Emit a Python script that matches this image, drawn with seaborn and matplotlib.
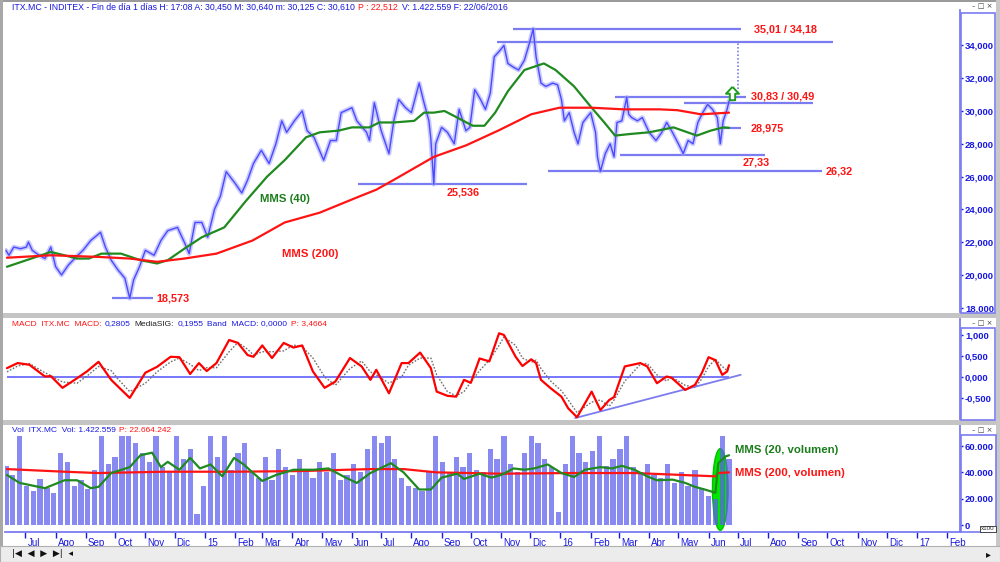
import pandas as pd
import matplotlib
matplotlib.use("Agg")
import matplotlib.pyplot as plt
import matplotlib.dates as mdates
import matplotlib.transforms as mtransforms
from matplotlib.patches import Rectangle, Ellipse
from matplotlib.path import Path
import seaborn as sns

# ------------------------------------------------------------------ data
price_dates = [
    "2014-06-11", "2014-06-14", "2014-06-19", "2014-06-26", "2014-07-02", "2014-07-04", "2014-07-08",
    "2014-07-15", "2014-07-21", "2014-07-27", "2014-08-01", "2014-08-07", "2014-08-14", "2014-08-22",
    "2014-08-29", "2014-09-06", "2014-09-16", "2014-09-21", "2014-09-27", "2014-10-04", "2014-10-11",
    "2014-10-16", "2014-10-20", "2014-10-26", "2014-11-01", "2014-11-10", "2014-11-17", "2014-11-24",
    "2014-12-04", "2014-12-11", "2014-12-16", "2014-12-22", "2014-12-29", "2015-01-04", "2015-01-11",
    "2015-01-17", "2015-01-23", "2015-02-01", "2015-02-08", "2015-02-14", "2015-02-20", "2015-02-28",
    "2015-03-08", "2015-03-15", "2015-03-21", "2015-03-26", "2015-04-03", "2015-04-11", "2015-04-16",
    "2015-04-23", "2015-05-03", "2015-05-10", "2015-05-16", "2015-05-21", "2015-06-01", "2015-06-06",
    "2015-06-16", "2015-06-19", "2015-06-24", "2015-07-01", "2015-07-09", "2015-07-14", "2015-07-19",
    "2015-07-26", "2015-08-01", "2015-08-09", "2015-08-14", "2015-08-19", "2015-08-21", "2015-08-24",
    "2015-08-26", "2015-09-01", "2015-09-07", "2015-09-14", "2015-09-19", "2015-09-26", "2015-09-30",
    "2015-10-05", "2015-10-11", "2015-10-16", "2015-10-21", "2015-10-25", "2015-10-31", "2015-11-04",
    "2015-11-08", "2015-11-13", "2015-11-19", "2015-11-25", "2015-11-30", "2015-12-04", "2015-12-07",
    "2015-12-12", "2015-12-17", "2015-12-24", "2015-12-29", "2016-01-02", "2016-01-05", "2016-01-10",
    "2016-01-15", "2016-01-19", "2016-01-24", "2016-02-01", "2016-02-06", "2016-02-08", "2016-02-11",
    "2016-02-16", "2016-02-21", "2016-02-25", "2016-02-28", "2016-03-04", "2016-03-09", "2016-03-11",
    "2016-03-14", "2016-03-20", "2016-03-25", "2016-04-01", "2016-04-08", "2016-04-14", "2016-04-19",
    "2016-04-24", "2016-05-01", "2016-05-06", "2016-05-11", "2016-05-16", "2016-05-21", "2016-05-26",
    "2016-05-31", "2016-06-05", "2016-06-10", "2016-06-13", "2016-06-16", "2016-06-20", "2016-06-22",
]
price_close = [
    21.5, 21.2, 21.7, 21.6, 21.7, 22.0, 21.5,
    21.2, 21.0, 21.7, 20.5, 20.0, 20.6, 21.1,
    21.5, 22.1, 22.6, 21.7, 20.9, 20.3, 19.8,
    18.573, 19.7, 20.5, 21.5, 21.2, 22.1, 22.7,
    22.9, 22.0, 21.3, 23.2, 23.2, 22.3, 24.0,
    24.8, 26.3, 25.6, 25.0, 25.8, 26.8, 27.6,
    26.8, 28.0, 29.4, 28.7, 29.4, 30.0, 28.8,
    28.4, 27.0, 28.2, 28.2, 29.9, 30.2, 29.4,
    28.7, 28.2, 30.5, 28.8, 27.4, 29.4, 30.7,
    30.2, 29.9, 31.7, 30.5, 29.4, 28.3, 25.536,
    28.0, 29.0, 28.7, 28.0, 30.1, 28.8, 29.0,
    31.3, 30.7, 30.1, 31.1, 33.3, 33.7, 34.0,
    32.9, 32.7, 32.5, 33.1, 34.1, 35.01, 33.3,
    31.7, 31.5, 31.7, 31.6, 30.7, 29.4, 29.9,
    28.7, 28.0, 29.3, 29.9, 28.7, 27.2, 26.32,
    27.4, 28.0, 27.2, 29.3, 29.4, 30.83, 29.8,
    29.6, 29.4, 29.6, 28.7, 28.2, 28.7, 29.3,
    28.8, 28.0, 27.4, 28.2, 28.0, 29.3, 29.9,
    30.4, 30.1, 29.6, 28.0, 29.4, 30.1, 30.61,
]

mms40_dates = [
    "2014-06-12", "2014-07-27", "2014-08-10", "2014-08-23", "2014-09-04", "2014-09-17", "2014-10-07",
    "2014-10-27", "2014-11-13", "2014-11-24", "2014-12-11", "2014-12-29", "2015-01-21", "2015-02-12",
    "2015-03-06", "2015-03-24", "2015-04-15", "2015-04-29", "2015-05-18", "2015-06-01", "2015-06-19",
    "2015-06-29", "2015-07-14", "2015-08-04", "2015-08-14", "2015-08-24", "2015-09-04", "2015-09-17",
    "2015-10-03", "2015-10-15", "2015-10-26", "2015-11-08", "2015-11-25", "2015-12-15", "2015-12-27",
    "2016-01-15", "2016-02-02", "2016-02-15", "2016-02-26", "2016-03-13", "2016-04-01", "2016-04-26",
    "2016-05-20", "2016-06-03", "2016-06-16", "2016-06-22",
]
mms40_values = [
    20.5, 21.4, 21.2, 21.0, 21.0, 21.3, 21.3,
    20.9, 20.7, 20.9, 21.6, 22.3, 22.9, 24.5,
    26.0, 27.0, 28.4, 28.7, 28.8, 29.0, 29.0,
    29.3, 29.3, 29.4, 29.9, 29.9, 30.0, 29.6,
    29.1, 29.1, 29.9, 31.2, 32.5, 32.9, 32.5,
    31.5, 30.2, 29.3, 28.5, 28.6, 28.7, 29.0,
    28.5, 28.8, 29.0, 28.975,
]

mms200_dates = [
    "2014-06-12", "2014-07-27", "2014-09-14", "2014-10-16", "2014-11-13", "2014-12-11", "2015-01-13",
    "2015-02-19", "2015-03-24", "2015-04-29", "2015-06-05", "2015-06-26", "2015-07-14", "2015-08-24",
    "2015-09-26", "2015-10-29", "2015-12-02", "2015-12-31", "2016-02-02", "2016-03-06", "2016-04-12",
    "2016-04-30", "2016-05-24", "2016-06-08", "2016-06-22",
]
mms200_values = [
    21.05, 21.2, 21.1, 21.0, 20.8, 21.0, 21.3,
    22.1, 23.2, 23.8, 24.7, 25.2, 25.8, 27.2,
    27.9, 28.8, 29.8, 30.2, 30.2, 30.1, 30.1,
    30.05, 29.8, 29.85, 29.9,
]

macd_dates = [
    "2014-06-12", "2014-06-23", "2014-07-05", "2014-07-21", "2014-07-27", "2014-08-08", "2014-08-23",
    "2014-09-02", "2014-09-14", "2014-09-27", "2014-10-04", "2014-10-16", "2014-11-01", "2014-11-13",
    "2014-11-27", "2014-12-06", "2014-12-17", "2014-12-26", "2015-01-03", "2015-01-13", "2015-01-26",
    "2015-02-04", "2015-02-14", "2015-02-20", "2015-03-01", "2015-03-11", "2015-03-23", "2015-04-02",
    "2015-04-11", "2015-04-22", "2015-05-04", "2015-05-15", "2015-05-30", "2015-06-11", "2015-06-20",
    "2015-06-26", "2015-07-09", "2015-07-22", "2015-07-29", "2015-08-10", "2015-08-21", "2015-08-27",
    "2015-09-07", "2015-09-16", "2015-09-24", "2015-10-01", "2015-10-10", "2015-10-20", "2015-10-30",
    "2015-11-04", "2015-11-16", "2015-11-23", "2015-12-02", "2015-12-07", "2015-12-12", "2015-12-22",
    "2016-01-02", "2016-01-09", "2016-01-18", "2016-02-02", "2016-02-11", "2016-02-20", "2016-02-25",
    "2016-03-07", "2016-03-23", "2016-03-30", "2016-04-09", "2016-04-19", "2016-04-24", "2016-05-08",
    "2016-05-18", "2016-05-25", "2016-06-01", "2016-06-08", "2016-06-15", "2016-06-20", "2016-06-22",
]
macd_values = [
    0.21, 0.33, 0.29, 0.01, 0.02, -0.26, -0.03,
    0.13, 0.36, -0.07, -0.23, -0.50, 0.10, 0.24,
    0.48, 0.47, 0.07, 0.33, 0.14, 0.33, 0.88,
    0.81, 0.52, 0.48, 0.75, 0.45, 0.81, 0.70,
    0.75, 0.13, -0.26, -0.11, 0.45, 0.25, -0.07,
    0.17, -0.39, 0.33, 0.33, 0.58, 0.21, -0.35,
    -0.45, -0.47, -0.07, -0.14, 0.44, 0.37, 1.04,
    1.00, 0.48, 0.26, 0.42, 0.33, -0.07, -0.27,
    -0.47, -0.75, -0.96, -0.35, -0.79, -0.55, -0.48,
    0.25, 0.33, 0.25, -0.15, 0.01, -0.02, -0.31,
    -0.19, 0.09, 0.47, 0.40, 0.05, 0.13, 0.28,
]
signal_values = [
    0.12, 0.26, 0.32, 0.10, 0.03, -0.12, -0.15,
    0.02, 0.25, 0.15, -0.05, -0.35, -0.15, 0.12,
    0.36, 0.45, 0.30, 0.15, 0.22, 0.22, 0.60,
    0.82, 0.66, 0.52, 0.60, 0.60, 0.62, 0.76,
    0.72, 0.45, 0.00, -0.20, 0.20, 0.38, 0.12,
    0.05, -0.15, 0.00, 0.28, 0.45, 0.45, 0.05,
    -0.35, -0.45, -0.35, -0.12, 0.15, 0.40, 0.75,
    0.95, 0.75, 0.45, 0.35, 0.40, 0.20, -0.10,
    -0.33, -0.55, -0.85, -0.60, -0.55, -0.70, -0.55,
    -0.10, 0.30, 0.32, 0.05, -0.10, 0.00, -0.20,
    -0.25, -0.05, 0.25, 0.42, 0.25, 0.15, 0.20,
]

# weekly volume (thousands of x100 shares), week of 9 June 2014 to week of 20 June 2016
vol_first_week = "2014-06-11"
vol_values = [
    45, 38, 68, 30, 26, 35, 28, 24, 55, 48, 30, 34, 27, 42, 68, 46, 52,
    68, 68, 62, 55, 48, 68, 44, 40, 68, 50, 58, 8, 30,
    68, 52, 68, 42, 55, 62, 40, 36, 52, 34, 58, 44, 38, 50, 42, 36, 48,
    40, 55, 34, 38, 46, 40, 58, 68, 62, 68, 50, 36, 30, 28, 26, 40, 68, 48,
    40, 52, 44, 55, 42, 40, 58, 50, 68, 46, 40, 55, 68, 62, 50, 44, 10,
    46, 68, 55, 48, 56, 68, 45, 50, 58, 68, 44, 40, 46, 38, 36, 46, 32,
    40, 30, 42, 28, 22, 20, 68, 50,
]

vol_ma20_dates = [
    "2014-06-12", "2014-06-25", "2014-07-21", "2014-08-10", "2014-08-23", "2014-09-06", "2014-09-14",
    "2014-09-27", "2014-10-16", "2014-10-27", "2014-11-08", "2014-11-17", "2014-11-24", "2014-12-06",
    "2014-12-17", "2014-12-27", "2015-01-07", "2015-01-19", "2015-01-31", "2015-02-10", "2015-02-19",
    "2015-03-01", "2015-03-15", "2015-04-02", "2015-04-23", "2015-05-08", "2015-05-23", "2015-06-06",
    "2015-06-20", "2015-07-11", "2015-07-24", "2015-08-09", "2015-08-21", "2015-09-01", "2015-09-17",
    "2015-09-24", "2015-10-10", "2015-10-22", "2015-11-01", "2015-11-14", "2015-11-25", "2015-12-05",
    "2015-12-19", "2016-01-02", "2016-01-15", "2016-01-26", "2016-02-11", "2016-02-23", "2016-03-04",
    "2016-03-17", "2016-03-30", "2016-04-09", "2016-04-25", "2016-05-08", "2016-05-18", "2016-05-28",
    "2016-06-08", "2016-06-11", "2016-06-18", "2016-06-22",
]
vol_ma20_values = [
    38, 32, 28, 34, 34, 28, 29,
    39.5, 44, 53, 55, 44, 48, 42,
    51, 43, 46, 37, 51, 46, 40,
    33.5, 38, 42, 42, 43, 37, 32,
    39.5, 47, 40, 27, 27, 36, 39,
    35, 39, 36, 38, 43, 42, 43,
    46, 39.5, 36.5, 42, 44, 43, 45,
    42, 37, 34, 34.5, 32, 29, 27,
    24.5, 47, 52, 53,
]

vol_ma200_dates = [
    "2014-06-12", "2014-08-10", "2014-09-14", "2014-11-21", "2015-01-31", "2015-04-09", "2015-06-20",
    "2015-07-24", "2015-08-27", "2015-11-01", "2016-01-09", "2016-03-17", "2016-06-08", "2016-06-11",
    "2016-06-22",
]
vol_ma200_values = [
    42.5, 40.5, 39.5, 40.5, 40.5, 41, 42.5,
    42.5, 40, 39, 39.5, 39.5, 37, 39.5,
    40,
]

month_labels = ["Jul", "Ago", "Sep", "Oct", "Nov", "Dic", "15", "Feb", "Mar", "Abr", "May", "Jun",
                "Jul", "Ago", "Sep", "Oct", "Nov", "Dic", "16", "Feb", "Mar", "Abr", "May", "Jun",
                "Jul", "Ago", "Sep", "Oct", "Nov", "Dic", "17", "Feb"]
price_ticks = [18, 20, 22, 24, 26, 28, 30, 32, 34]
macd_ticks = [-0.5, 0.0, 0.5, 1.0]
vol_ticks = [0, 20, 40, 60]

# ------------------------------------------------------------------ style
sns.set_theme(style="white")
plt.rcParams['font.family'] = ['Liberation Sans', 'DejaVu Sans']

PRICE_BLUE = '#4a4aff'
LINE_BLUE = '#7c7cf2'
TXT_BLUE = '#1818e0'
RED = '#ff1414'
GREEN = '#1f8a1f'
VOL_BLUE = '#5c5cee'

W, H = 1000, 562
fig = plt.figure(figsize=(10, 5.62), dpi=100)
fig.patch.set_facecolor('white')


def axrect(x0, y0, x1, y1):
    return [x0 / W, 1 - y1 / H, (x1 - x0) / W, (y1 - y0) / H]


def frect(x0, y0, x1, y1, **kw):
    r = Rectangle((x0 / W, 1 - y1 / H), (x1 - x0) / W, (y1 - y0) / H,
                  transform=fig.transFigure, **kw)
    fig.add_artist(r)
    return r


ax1 = fig.add_axes(axrect(5, 10, 960, 312))
ax2 = fig.add_axes(axrect(5, 319, 960, 421), sharex=ax1)
ax3 = fig.add_axes(axrect(5, 425, 960, 532), sharex=ax1)

# ------------------------------------------------------------------ price panel
pdt = pd.to_datetime(price_dates)
# soft band under the close line imitates the width of the daily bars
sns.lineplot(x=pdt, y=price_close, ax=ax1, color='#9d9dff', lw=3.4, alpha=0.55,
             estimator=None, sort=False, zorder=2.5)
sns.lineplot(x=pdt, y=price_close, ax=ax1, color=PRICE_BLUE,
             lw=1.0, estimator=None, sort=False, zorder=3)
sns.lineplot(x=pd.to_datetime(mms40_dates), y=mms40_values, ax=ax1, color=GREEN,
             lw=1.6, estimator=None, sort=False, zorder=4)
sns.lineplot(x=pd.to_datetime(mms200_dates), y=mms200_values, ax=ax1, color=RED,
             lw=1.6, estimator=None, sort=False, zorder=4)

levels = [
    (18.573, "2014-09-28", "2014-11-09"),
    (25.536, "2015-06-07", "2015-11-28"),
    (35.01, "2015-11-13", "2016-07-04"),
    (34.18, "2015-10-28", "2016-10-07"),
    (30.83, "2016-02-26", "2016-07-09"),
    (30.49, "2016-05-07", "2016-09-16"),
    (28.975, "2016-06-16", "2016-07-04"),
    (27.33, "2016-03-02", "2016-07-29"),
    (26.32, "2015-12-19", "2016-09-25"),
]
for val, d0, d1 in levels:
    ax1.hlines(val, pd.Timestamp(d0), pd.Timestamp(d1), color=LINE_BLUE, lw=1.6, zorder=2)

ax1.vlines(pd.Timestamp("2016-07-01"), 31.35, 34.18, color=LINE_BLUE, lw=1.2,
           linestyles=(0, (1, 1.2)), zorder=2)
arrow = Path([(0, 1), (-0.85, 0.1), (-0.35, 0.1), (-0.35, -0.75), (0.35, -0.75),
              (0.35, 0.1), (0.85, 0.1), (0, 1)])
ax1.plot([pd.Timestamp("2016-06-25")], [31.05], marker=arrow, ms=11, mfc='white',
         mec='#1e9a1e', mew=1.4, ls='none', zorder=5)

lab = dict(color=RED, fontsize=7.8, fontweight='bold', va='center', ha='left')
ax1.text(pd.Timestamp("2014-11-12"), 18.573, "18,573", **lab)
ax1.text(pd.Timestamp("2015-09-23"), 25.0, "25,536", **{**lab, 'ha': 'center'})
ax1.text(pd.Timestamp("2016-07-18"), 34.95, "35,01 / 34,18", **lab)
ax1.text(pd.Timestamp("2016-07-15"), 30.9, "30,83 / 30,49", **lab)
ax1.text(pd.Timestamp("2016-07-14"), 28.95, "28,975", **lab)
ax1.text(pd.Timestamp("2016-07-06"), 26.85, "27,33", **lab)
ax1.text(pd.Timestamp("2016-09-29"), 26.32, "26,32", **lab)
ax1.text(pd.Timestamp("2015-02-27"), 24.63, "MMS (40)", color='#1a7d1a', fontsize=8.2,
         fontweight='bold', va='center', ha='left')
ax1.text(pd.Timestamp("2015-03-21"), 21.28, "MMS (200)", color=RED, fontsize=8.2,
         fontweight='bold', va='center', ha='left')

ax1.set_ylim(17.74, 36.16)

# ------------------------------------------------------------------ MACD panel
mdt = pd.to_datetime(macd_dates)
ax2.hlines(0, mdt[0], mdt[-1], color='#6c6cff', lw=1.3, zorder=1)
sns.lineplot(x=mdt, y=signal_values, ax=ax2, color='#707070', lw=1.0,
             estimator=None, sort=False, zorder=2, linestyle=(0, (1.2, 1.2)))
sns.lineplot(x=mdt, y=macd_values, ax=ax2, color='#ff0000', lw=1.6,
             estimator=None, sort=False, zorder=3)
ax2.plot([pd.Timestamp("2016-01-16"), pd.Timestamp("2016-07-04")], [-0.98, 0.05],
         color=LINE_BLUE, lw=1.3, zorder=2)
ax2.set_ylim(-1.05, 1.38)

# ------------------------------------------------------------------ volume panel
vol_dates = pd.date_range(vol_first_week, periods=len(vol_values), freq="7D")
ell = Ellipse((mdates.date2num(pd.Timestamp("2016-06-13")), 27), width=16, height=62,
              facecolor='#00e600', edgecolor='#00c000', lw=1, zorder=1)
ax3.add_patch(ell)
ax3.bar(vol_dates, vol_values, width=5.4, color=VOL_BLUE, alpha=0.72, lw=0, zorder=2)
sns.lineplot(x=pd.to_datetime(vol_ma200_dates), y=vol_ma200_values, ax=ax3, color=RED,
             lw=1.6, estimator=None, sort=False, zorder=3)
sns.lineplot(x=pd.to_datetime(vol_ma20_dates), y=vol_ma20_values, ax=ax3, color=GREEN,
             lw=1.6, estimator=None, sort=False, zorder=4)
ax3.text(pd.Timestamp("2016-06-28"), 57, "MMS (20, volumen)", color='#1a7d1a', fontsize=8.2,
         fontweight='bold', va='center', ha='left')
ax3.text(pd.Timestamp("2016-06-28"), 39.5, "MMS (200, volumen)", color=RED, fontsize=8.2,
         fontweight='bold', va='center', ha='left')
ax3.set_ylim(-5.3, 76)

# ------------------------------------------------------------------ axes styling
ax1.set_xlim(pd.Timestamp("2014-06-10"), pd.Timestamp("2017-02-14"))
for ax in (ax1, ax2, ax3):
    ax.set_facecolor('white')
    ax.grid(False)
    ax.set_xlabel('')
    ax.set_ylabel('')
    ax.yaxis.tick_right()
    for s in ('left', 'top', 'bottom'):
        ax.spines[s].set_visible(False)
    ax.spines['right'].set_color(LINE_BLUE)
    ax.spines['right'].set_linewidth(1.3)
    ax.tick_params(axis='y', right=True, left=False, direction='out', length=2.5, width=1,
                   color=TXT_BLUE, labelcolor=TXT_BLUE, labelsize=6.8, pad=1)

ax1.set_yticks(price_ticks)
ax1.set_yticklabels([f"{v:.3f}".replace('.', ',') for v in price_ticks], fontweight='bold')
ax2.set_yticks(macd_ticks)
ax2.set_yticklabels([f"{v:.3f}".replace('.', ',') for v in macd_ticks], fontweight='bold')
ax3.set_yticks(vol_ticks)
ax3.set_yticklabels(["0" if v == 0 else f"{v}.000" for v in vol_ticks], fontweight='bold')

ax1.tick_params(axis='x', bottom=False, labelbottom=False)
ax2.tick_params(axis='x', bottom=False, labelbottom=False)
month_starts = pd.date_range("2014-07-01", periods=len(month_labels), freq="MS")
ax3.set_xticks(month_starts)
ax3.set_xticklabels(month_labels)
ax3.spines['bottom'].set_visible(True)
ax3.spines['bottom'].set_color(LINE_BLUE)
ax3.spines['bottom'].set_linewidth(1.3)
ax3.tick_params(axis='x', bottom=True, direction='out', length=4, width=1, color=TXT_BLUE,
                labelcolor=TXT_BLUE, labelsize=7, pad=0.5)
shift = mtransforms.ScaledTranslation(1.5 / 72, 0, fig.dpi_scale_trans)
for lbl in ax3.get_xticklabels():
    lbl.set_ha('left')
    lbl.set_transform(lbl.get_transform() + shift)

# ------------------------------------------------------------------ window chrome
frect(0, 0, 1000, 1.5, facecolor='#9a9a9a', lw=0, zorder=0)
frect(0, 0, 3, 546, facecolor='#a8a8a8', lw=0)
frect(996, 0, 1000, 546, facecolor='#c8c8c8', lw=0)
frect(3, 313, 996, 318, facecolor='#c4c4c4', lw=0)
frect(3, 420, 996, 425, facecolor='#c4c4c4', lw=0)
frect(0, 546, 1000, 562, facecolor='#ececec', edgecolor='#b0b0b0', lw=0.8)
frect(961, 13, 995, 313, facecolor='none', edgecolor=LINE_BLUE, lw=1.2)
frect(961, 328, 995, 420, facecolor='none', edgecolor=LINE_BLUE, lw=1.2)
frect(961, 435, 996, 532, facecolor='none', edgecolor=LINE_BLUE, lw=1.2)
fig.text(988 / W, 1 - 529 / H, "x100", fontsize=4.5, color='#303030', ha='center', va='center',
         bbox=dict(boxstyle='square,pad=0.15', fc='white', ec='#303030', lw=0.6))
for yb in (6, 323, 430):
    fig.text(982 / W, 1 - yb / H, "\u2013 \u25a1 \u00d7", fontsize=5, color='#404040',
             ha='center', va='center', family=['DejaVu Sans'])
fig.text(12 / W, 1 - 554 / H, "|\u25c0  \u25c0  \u25b6  \u25b6|  \u25c2", fontsize=6.5,
         color='#101010', ha='left', va='center', family=['DejaVu Sans'])
fig.text(988 / W, 1 - 554 / H, "\u25b8", fontsize=7, color='#101010', ha='center',
         va='center', family=['DejaVu Sans'])


# ------------------------------------------------------------------ header texts
def chain(ax, x_px, y_px, parts, size):
    prev = fig.text(x_px / W, 1 - y_px / H, parts[0][0], color=parts[0][1], fontsize=size,
                    ha='left', va='center', zorder=10)
    for s, c in parts[1:]:
        prev = ax.annotate(s, xy=(1, 0.5), xycoords=prev, xytext=(2.6, 0),
                           textcoords='offset points', color=c, fontsize=size,
                           ha='left', va='center', annotation_clip=False, zorder=10)


chain(ax1, 12, 7, [("ITX.MC - INDITEX - Fin de día 1 días H: 17:08 A: 30,450 M: 30,640 m: 30,125 C: 30,610",
                    TXT_BLUE), ("P : 22,512", RED), ("V: 1.422.559 F: 22/06/2016", TXT_BLUE)], 6.3)
chain(ax2, 12, 324, [("MACD  ITX.MC  MACD:", RED), ("0,2805", TXT_BLUE), ("MediaSIG:", '#202020'),
                     ("0,1955", TXT_BLUE), ("Band  MACD: 0,0000", TXT_BLUE), ("P: 3,4664", RED)], 6.0)
chain(ax3, 12, 430, [("Vol  ITX.MC  Vol: 1.422.559", TXT_BLUE), ("P: 22.664.242", RED)], 6.0)

fig.savefig("out.png", dpi=100, facecolor='white')
